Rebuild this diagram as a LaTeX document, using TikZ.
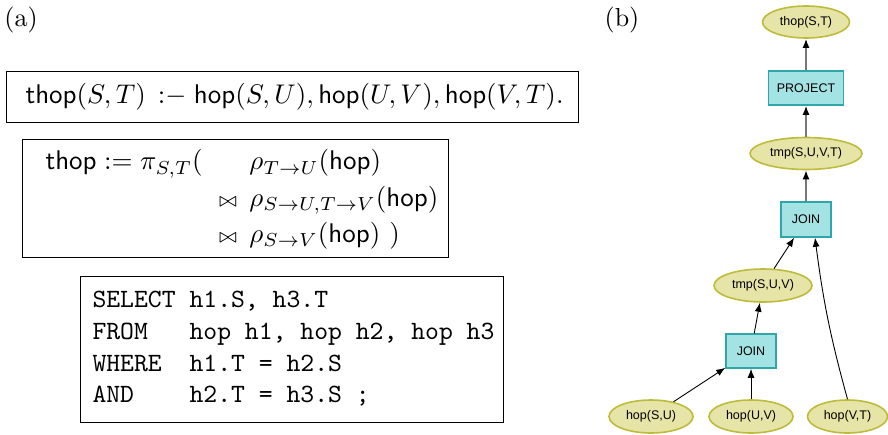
\documentclass[tikz,border=0pt]{standalone}
\usepackage{fontspec}
\newfontfamily\gfont{Liberation Sans}
\usetikzlibrary{arrows.meta,shapes.geometric,calc}
\definecolor{ellfill}{HTML}{E6E4A6}
\definecolor{elldraw}{HTML}{BDBC3A}
\definecolor{opfill}{HTML}{A3E3E3}
\definecolor{opdraw}{HTML}{2FA7AA}
\definecolor{edgegray}{HTML}{777777}
\tikzset{
  rel/.style={ellipse, draw=elldraw, fill=ellfill, line width=1.6pt, inner sep=0pt,
    font=\gfont\fontsize{12.5}{14}\selectfont},
  op/.style={rectangle, draw=opdraw, fill=opfill, line width=1.5pt, inner sep=0pt,
    font=\gfont\fontsize{12.5}{14}\selectfont},
  upedge/.style={draw=edgegray, line width=1.6pt, -{Latex[color=black,length=9pt,width=7pt]}},
  lowedge/.style={draw=black, line width=0.9pt, -{Latex[length=9pt,width=7pt]}},
  frame/.style={draw, line width=0.8pt, inner sep=0pt, anchor=north west},
  lbltext/.style={inner sep=0pt, scale=2.6, font=\fontsize{10}{12}\selectfont},
  bigtext/.style={inner sep=0pt, scale=2.7, font=\fontsize{10}{12}\selectfont},
  sqltext/.style={inner sep=0pt, align=left, scale=2.64, font=\ttfamily\fontsize{10}{12}\selectfont}
}
\newcommand{\smalljoin}{\mathbin{\scriptstyle\bowtie}}
\begin{document}
\begin{tikzpicture}[x=1pt,y=-1pt]
\useasboundingbox (0,0) rectangle (888,434);
% labels
\node[lbltext] (la) at (21,20) {(a)};
\node[lbltext] (lb) at (622,20) {(b)};
% box 1
\node[frame, minimum width=572pt, minimum height=51pt] (box1) at (6,71) {};
\node[bigtext, anchor=west] (rule) at (25,97)
  {$\mathsf{thop}(S,T)\;\,{:}{-}\;\mathsf{hop}(S,U),\mathsf{hop}(U,V),\mathsf{hop}(V,T).$};
% box 2
\node[frame, minimum width=426pt, minimum height=118pt] (box2) at (22,139) {};
\node[bigtext, anchor=west] (alg) at (45,199)
  {$\renewcommand{\arraystretch}{1.12}\begin{array}{@{}l@{\hspace{6pt}}r@{\hspace{4.5pt}}l@{}}
     \mathsf{thop} \mathrel{:=} \pi_{S,T}( & & \rho_{T\to U}(\mathsf{hop})\\
      & \smalljoin & \rho_{S\to U,T\to V}(\mathsf{hop})\\
      & \smalljoin & \rho_{S\to V}(\mathsf{hop})\ )
   \end{array}$};
% box 3
\node[frame, minimum width=423pt, minimum height=146pt] (box3) at (80,276) {};
\node[sqltext, anchor=west] (sql) at (92,349)
  {SELECT~h1.S,~h3.T\\FROM~~~hop~h1,~hop~h2,~hop~h3\\WHERE~~h1.T~=~h2.S\\AND~~~~h2.T~=~h3.S~;};
% graph
\node[rel, minimum width=87pt, minimum height=32pt] (ts) at (806,22) {thop(S,T)};
\node[op, minimum width=75pt, minimum height=34pt] (pr) at (806,88) {PROJECT};
\node[rel, minimum width=112pt, minimum height=32pt] (tuvt) at (806,153.5) {tmp(S,U,V,T)};
\node[op, minimum width=50pt, minimum height=35pt] (j1) at (806,219.5) {JOIN};
\node[rel, minimum width=98pt, minimum height=33pt] (tsuv) at (763,285.5) {tmp(S,U,V)};
\node[op, minimum width=50pt, minimum height=34pt] (j2) at (751,351) {JOIN};
\node[rel, minimum width=84pt, minimum height=33pt] (hsu) at (651,416.5) {hop(S,U)};
\node[rel, minimum width=84pt, minimum height=33pt] (huv) at (751,416.5) {hop(U,V)};
\node[rel, minimum width=80pt, minimum height=33pt] (hvt) at (847.5,416.5) {hop(V,T)};
\draw[upedge] (pr) -- (ts);
\draw[upedge] (tuvt) -- (pr);
\draw[upedge] (j1) -- (tuvt);
\draw[lowedge] (tsuv) -- (j1);
\draw[lowedge] (hvt.north) to[bend left=4] ([xshift=9pt]j1.south);
\draw[lowedge] (j2) -- (tsuv);
\draw[lowedge] (hsu) -- (j2);
\draw[lowedge] (huv) -- (j2);
\end{tikzpicture}
\end{document}
